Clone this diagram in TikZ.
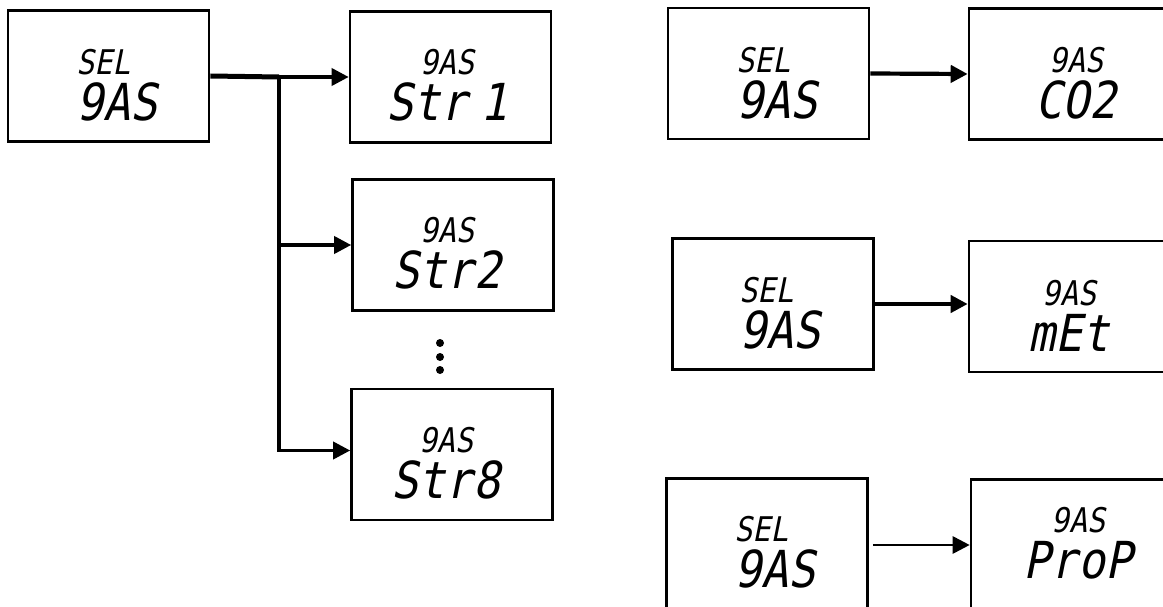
\documentclass[tikz,border=0pt]{standalone}
\usepackage{fontspec}
\newfontfamily\segfont[FakeStretch=0.88,FakeSlant=0.2,WordSpace=0.5]{DejaVu Sans Mono}
\newcommand{\segsmall}{\fontsize{34}{34}\selectfont}
\usetikzlibrary{arrows.meta}

\tikzset{
  dispbox/.style={draw, line width=2.6pt, minimum width=201pt, minimum height=131pt, inner sep=0pt},
  disptext/.style={font=\segfont\fontsize{51}{46}\selectfont, inner sep=0pt, anchor=north},
  flow/.style={line width=3.6pt, -{Triangle[length=17pt,width=17pt]}},
}

\begin{document}
\begin{tikzpicture}[x=1pt,y=-1pt]
\useasboundingbox (0,0) rectangle (1163,607);
\clip (0,0) rectangle (1163,607);

% left: one selection, several gases
\node[dispbox] (selA) at (108.5,76) {};
\node[dispbox] (strOne) at (450.5,77) {};
\node[dispbox] (strTwo) at (453,245) {};
\node[dispbox] (strEight) at (452,454.5) {};
\node[disptext,align=left] (selAtext) at (117,49) {{\segsmall SEL}\\9AS};
\node[disptext,align=center] (strOnetext) at (447,49) {{\segsmall 9AS}\\Str 1};
\node[disptext,align=center] (strTwotext) at (447,217) {{\segsmall 9AS}\\Str2};
\node[disptext,align=center] (strEighttext) at (446,427) {{\segsmall 9AS}\\Str8};

\coordinate (split) at (279,77);
\draw[line width=5pt] (selA.east) -- (split);
\draw[flow] (split) -- (strOne.west);
\draw[flow] (split) |- (strTwo.west);
\draw[flow] (split) |- ([yshift=4pt]strEight.west);
\foreach \y in {343,357,370}
  \fill (440,\y) circle (4pt);

% right: one selection, one gas each
\node[dispbox] (selB) at (768.5,73.5) {};
\node[dispbox] (gasCO) at (1069.5,74) {};
\node[dispbox] (selC) at (773,304) {};
\node[dispbox] (gasMet) at (1069.5,306.5) {};
\node[dispbox] (selD) at (767,544) {};
\node[dispbox] (gasProp) at (1071.5,545) {};
\node[disptext,align=left] (selBtext) at (777,47) {{\segsmall SEL}\\9AS};
\node[disptext,align=center] (gasCOtext) at (1076,47) {{\segsmall 9AS}\\CO2};
\node[disptext,align=left] (selCtext) at (780,277) {{\segsmall SEL}\\9AS};
\node[disptext,align=center] (gasMettext) at (1069,280) {{\segsmall 9AS}\\mEt};
\node[disptext,align=left] (selDtext) at (775,516) {{\segsmall SEL}\\9AS};
\node[disptext,align=center] (gasProptext) at (1078,507) {{\segsmall 9AS}\\ProP};

\draw[flow,line width=4.2pt] (selB.east) -- (gasCO.west);
\draw[flow,line width=4pt] (selC.east) -- (selC.east -| gasMet.west);
\draw[flow,line width=2.8pt,shorten <=4pt] (gasProp.west -| selD.east) -- (gasProp.west);
\end{tikzpicture}
\end{document}
